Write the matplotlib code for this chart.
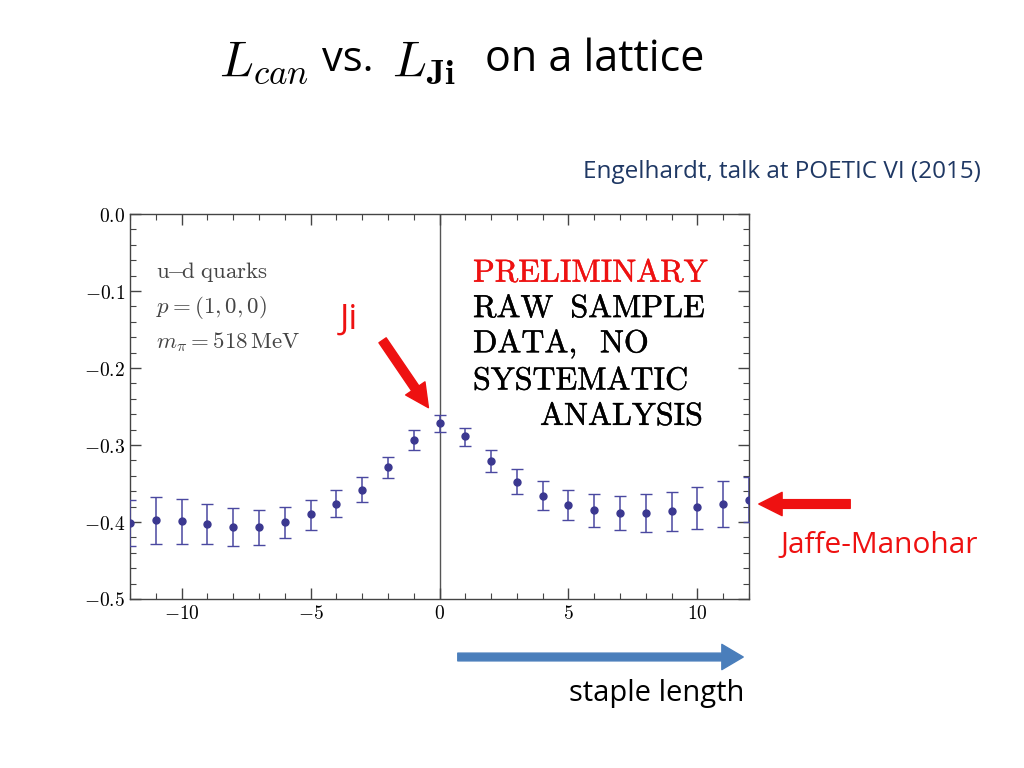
import matplotlib
matplotlib.use("Agg")
import matplotlib.pyplot as plt
import matplotlib.patheffects as pe
import numpy as np

plt.rcParams['mathtext.fontset'] = 'cm'

# staple length vs L
staple = np.arange(-12, 13)
L_val = [-0.401, -0.398, -0.399, -0.402, -0.406, -0.407, -0.400, -0.390, -0.377,
         -0.358, -0.329, -0.293, -0.272, -0.288, -0.321, -0.348, -0.366, -0.378,
         -0.385, -0.388, -0.388, -0.386, -0.381, -0.377, -0.371]
L_top = [-0.371, -0.368, -0.370, -0.376, -0.382, -0.384, -0.380, -0.372, -0.359,
         -0.342, -0.316, -0.281, -0.261, -0.278, -0.307, -0.331, -0.347, -0.359,
         -0.364, -0.366, -0.364, -0.361, -0.354, -0.347, -0.342]
L_bot = [-0.431, -0.429, -0.428, -0.429, -0.431, -0.430, -0.421, -0.410, -0.393,
         -0.374, -0.343, -0.306, -0.283, -0.301, -0.335, -0.364, -0.384, -0.398,
         -0.407, -0.411, -0.413, -0.412, -0.409, -0.406, -0.400]

xticks = [-10, -5, 0, 5, 10]
yticks = [0.0, -0.1, -0.2, -0.3, -0.4, -0.5]

L_val = np.array(L_val)
err = [L_val - np.array(L_bot), np.array(L_top) - L_val]

fig = plt.figure(figsize=(10.24, 7.68), dpi=100)
ax = fig.add_axes([130/1024, 1 - 599/768, 619/1024, 385/768])

ax.errorbar(staple, L_val, yerr=err, fmt='o', color='#3b3890', ecolor='#4a48a0',
            ms=5, elinewidth=1.1, capsize=4, capthick=1.0, clip_on=True, zorder=3)
ax.axvline(0, color='#555555', lw=1.0, zorder=1)

ax.set_xlim(-12, 12)
ax.set_ylim(-0.5, 0.0)
ax.set_xticks(xticks)
ax.set_xticklabels([r'$%s$' % ('-' + str(-t) if t < 0 else str(t)) for t in xticks], fontsize=14)
ax.set_yticks(yticks)
ax.set_yticklabels([r'$%s$' % ('-%.1f' % -t if t < 0 else '0.0') for t in yticks], fontsize=14)
ax.set_xticks(np.arange(-12, 13), minor=True)
ax.set_yticks(np.arange(-0.5, 0.001, 0.02), minor=True)
ax.tick_params(which='both', direction='in', top=True, right=True, color='#444444')
ax.tick_params(which='major', length=8, width=1.0)
ax.tick_params(which='minor', length=4, width=0.8)
for s in ax.spines.values():
    s.set_color('#444444')
    s.set_linewidth(1.0)

# in-plot labels
ax.text(-11.0, -0.075, r'$\mathrm{u\!\!-\!\!d\ quarks}$', fontsize=16.5, color='#444444', va='center')
ax.text(-11.0, -0.122, r'$p = (1, 0, 0)$', fontsize=16.5, color='#444444', va='center')
ax.text(-11.0, -0.166, r'$m_\pi = 518\,\mathrm{MeV}$', fontsize=16.5, color='#444444', va='center')

heavy = [pe.withStroke(linewidth=0.3, foreground='black')]
heavy_red = [pe.withStroke(linewidth=0.3, foreground='#ee1111')]
ax.text(1.3, -0.077, r'$\mathrm{PRELIMINARY}$', fontsize=23, color='#ee1111', va='center',
        path_effects=heavy_red)
ax.text(1.3, -0.123, r'$\mathrm{RAW\;\ SAMPLE}$', fontsize=23, color='black', va='center',
        path_effects=heavy)
ax.text(1.3, -0.170, r'$\mathrm{DATA,\;\ NO}$', fontsize=23, color='black', va='center',
        path_effects=heavy)
ax.text(1.3, -0.217, r'$\mathrm{SYSTEMATIC}$', fontsize=23, color='black', va='center',
        path_effects=heavy)
ax.text(3.9, -0.263, r'$\mathrm{ANALYSIS}$', fontsize=23, color='black', va='center',
        path_effects=heavy)

# slide annotations
def fx(px):
    return px / 1024

def fy(py):
    return 1 - py / 768

fig.text(fx(219), fy(62), r'$L_{can}$', fontsize=36, va='center', ha='left')
fig.text(fx(322), fy(60), 'vs.', fontsize=30, va='center', ha='left', family='Open Sans')
fig.text(fx(392), fy(62), r'$L_{\mathbf{Ji}}$', fontsize=36, va='center', ha='left')
fig.text(fx(485), fy(60), 'on a lattice', fontsize=31, va='center', ha='left', family='Open Sans')

fig.text(fx(981), fy(172), 'Engelhardt, talk at POETIC VI (2015)', fontsize=17.5,
         color='#1f3864', ha='right', va='center', family='Open Sans')

fig.text(fx(349), fy(320), 'Ji', fontsize=25, color='#ee1111', ha='center', va='center',
         family='Open Sans')
fig.add_artist(matplotlib.patches.FancyArrowPatch(
    (fx(381), fy(338)), (fx(430), fy(410)), transform=fig.transFigure,
    arrowstyle='simple,head_length=1.2,head_width=1.2,tail_width=0.45',
    mutation_scale=14, color='#ee1111'))

fig.text(fx(879), fy(545), 'Jaffe-Manohar', fontsize=21.5, color='#ee1111', ha='center',
         va='center', family='Open Sans')
fig.add_artist(matplotlib.patches.FancyArrowPatch(
    (fx(853), fy(504)), (fx(756), fy(504)), transform=fig.transFigure,
    arrowstyle='simple,head_length=1.2,head_width=1.2,tail_width=0.45',
    mutation_scale=14, color='#ee1111'))

fig.add_artist(matplotlib.patches.FancyArrowPatch(
    (fx(455), fy(657)), (fx(746), fy(657)), transform=fig.transFigure,
    arrowstyle='simple,head_length=1.1,head_width=1.3,tail_width=0.4',
    mutation_scale=14, color='#4a7ebb'))
fig.text(fx(657), fy(694), 'staple length', fontsize=21, color='black', ha='center',
         va='center', family='Open Sans')

plt.savefig('out.png', dpi=100)
